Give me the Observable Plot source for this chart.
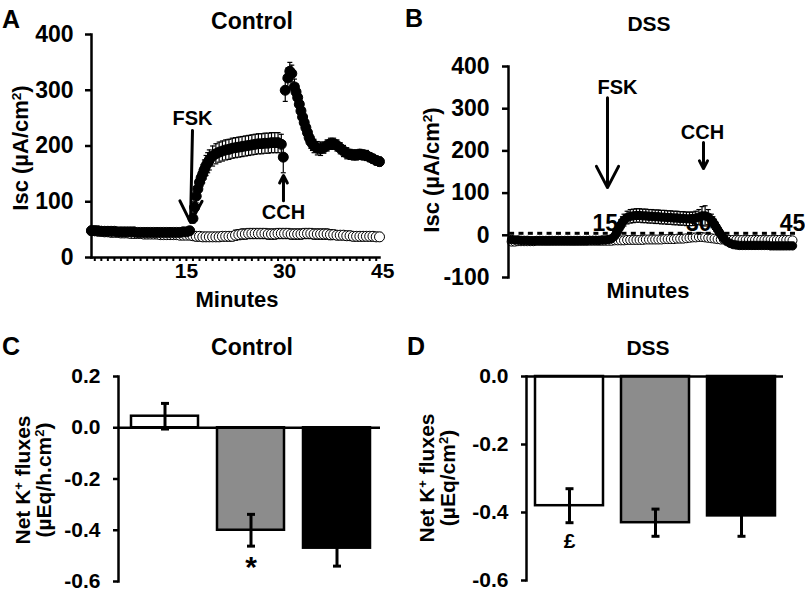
<!DOCTYPE html>
<html><head><meta charset="utf-8">
<script src="https://cdn.jsdelivr.net/npm/d3@7"></script>
<script src="https://cdn.jsdelivr.net/npm/@observablehq/plot@0.6"></script>
<style>
body{margin:0;background:#fff;}
#fig{position:relative;width:805px;height:598px;overflow:hidden;font-family:"Liberation Sans",Arial,Helvetica,sans-serif;font-weight:bold;color:#000;background:#fff;}
#fig svg{position:absolute;}
.lbl{position:absolute;transform:translate(-50%,-50%);white-space:nowrap;line-height:1;}
.rot{transform:translate(-50%,-50%) rotate(-90deg);text-align:center;}
.lbl sup{font-size:0.62em;vertical-align:0.55em;line-height:0;}
</style></head><body><div id="fig"></div>
<script>
// ---------- DATA ----------
// Panel A (Control): [minute, mean Isc, SEM]
const aBasal = [
[0.5,48,5],[1,48,5],[1.5,47,5],[2,47,5],[2.5,46,5],[3,46,5],[3.5,45,5],[4,45,5],[4.5,45,5],[5,44,5],
[5.5,44,5],[6,44,5],[6.5,43,5],[7,43,5],[7.5,43,5],[8,43,5],[8.5,42,5],[9,42,5],[9.5,42,5],[10,42,5],
[10.5,42,5],[11,41,5],[11.5,41,5],[12,41,5],[12.5,41,5],[13,41,5],[13.5,41,5],[14,40,5],[14.5,40,5],[15,40,5],
[15.5,40,7],[16,39,7],[16.5,38,8],[17,38,8],[17.5,37,8],[18,37,8],[18.5,37,8],[19,37,8],[19.5,37,8],[20,37,8],
[20.5,38,8],[21,38,8],[21.5,38,8],[22,38,8],
[22.5,40,9],[23,41,9],[23.5,42,9],[24,42,9],[24.5,43,9],[25,43,9],[25.5,43,9],[26,43,9],[26.5,43,9],[27,43,9],
[27.5,42,9],[28,42,9],[28.5,42,9],[29,43,9],[29.5,43,9],[30,43,9],[30.5,43,9],[31,42,9],[31.5,42,9],[32,42,9],
[32.5,42,9],[33,43,9],[33.5,43,9],[34,43,9],[34.5,42,9],[35,42,9],[35.5,42,9],[36,42,9],[36.5,42,9],[37,41,9],
[37.5,41,8],[38,40,8],[38.5,40,8],[39,40,8],[39.5,39,8],[40,39,8],[40.5,38,8],[41,38,8],[41.5,38,8],[42,38,8],
[42.5,38,8],[43,38,8],[43.5,38,8],[44,37,8],[44.5,37,8]
];
const aFskCch = [
[0.5,48,4],[1,48,4],[1.5,48,4],[2,47,4],[2.5,47,4],[3,47,4],[3.5,47,4],[4,47,4],[4.5,46,4],[5,46,4],
[5.5,46,4],[6,46,4],[6.5,46,4],[7,46,4],[7.5,45,4],[8,45,4],[8.5,45,4],[9,45,4],[9.5,45,4],[10,45,4],
[10.5,45,4],[11,45,4],[11.5,45,4],[12,45,4],[12.5,45,4],[13,45,4],[13.5,45,4],[14,45,4],[14.5,46,4],[15,46,4],
[15.5,48,5],[16,70,8],[16.25,90,10],[16.5,110,12],[16.75,123,13],[17,135,14],[17.25,143,15],[17.5,150,16],[17.75,158,17],[18,165,18],[18.25,170,18],[18.5,175,18],[19,182,18],[19.5,186,18],[20,189,18],
[20.5,191,18],[21,193,18],[21.5,194,18],[22,196,18],[22.5,197,18],[23,198,18],[23.5,199,18],[24,200,18],[24.5,201,18],[25,202,18],
[25.5,203,18],[26,204,18],[26.5,204,18],[27,205,18],[27.5,205,18],[28,206,18],[28.5,206,18],[29,206,18],[29.5,203,18],[29.8,180,28],
[30.1,300,20],[30.5,322,18],[30.8,334,16],[31.1,330,15],[31.5,306,14],[31.75,297,14],[32,287,14],[32.25,275,13],[32.5,263,13],[32.75,252,13],[33,242,13],[33.25,233,12],[33.5,224,12],[33.75,215,12],[34,208,12],[34.25,204,12],
[34.5,200,12],[35,196,12],[35.5,195,12],[36,197,10],[36.5,201,10],[37,204,10],[37.5,204,10],[38,201,10],[38.5,196,10],[39,191,10],
[39.5,187,10],[40,185,9],[40.5,184,9],[41,184,9],[41.5,185,9],[42,184,9],[42.5,183,9],[43,180,8],[43.5,177,8],[44,174,8],[44.5,172,8]
];
// Panel B (DSS)
const bBasal = [
[0,-15,6],[0.5,-15,6],[1,-14,6],[1.5,-14,6],[2,-14,6],[2.5,-14,6],[3,-14,6],[3.5,-14,6],[4,-13,6],[4.5,-13,6],
[5,-13,6],[5.5,-13,6],[6,-13,6],[6.5,-13,6],[7,-13,6],[7.5,-13,6],[8,-13,6],[8.5,-13,6],[9,-13,6],[9.5,-13,6],
[10,-13,6],[10.5,-13,6],[11,-13,6],[11.5,-13,6],[12,-13,6],[12.5,-13,6],[13,-13,6],[13.5,-13,6],[14,-13,6],[14.5,-13,6],[15,-13,6],
[15.5,-13,6],[16,-13,6],[16.5,-12,6],[17,-12,6],[17.5,-12,6],[18,-12,6],[18.5,-11,6],[19,-11,6],[19.5,-11,6],[20,-11,6],
[20.5,-11,6],[21,-11,6],[21.5,-10,6],[22,-10,6],[22.5,-10,6],[23,-10,6],[23.5,-10,6],[24,-10,6],[24.5,-9,6],[25,-9,6],
[25.5,-9,6],[26,-9,6],[26.5,-8,6],[27,-8,6],[27.5,-8,6],[28,-7,6],
[28.5,-6,6],[29,-5,6],[29.5,-5,6],[30,-4,6],[30.5,-4,6],[31,-5,6],[31.5,-6,6],[32,-7,6],[32.5,-8,6],[33,-9,6],
[33.5,-10,6],[34,-10,6],[34.5,-11,6],[35,-11,6],[35.5,-11,6],[36,-11,6],[36.5,-11,6],[37,-11,6],[37.5,-11,6],[38,-11,6],
[38.5,-11,6],[39,-11,6],[39.5,-11,6],[40,-11,6],[40.5,-11,6],[41,-11,6],[41.5,-11,6],[42,-11,6],[42.5,-11,6],[43,-11,6],
[43.5,-11,6],[44,-11,6],[44.5,-11,6],[45,-12,6]
];
const bFskCch = [
[0,-10,5],[0.5,-11,5],[1,-11,5],[1.5,-12,5],[2,-12,5],[2.5,-12,5],[3,-13,5],[3.5,-13,5],[4,-13,5],[4.5,-13,5],
[5,-13,5],[5.5,-13,5],[6,-13,5],[6.5,-13,5],[7,-13,5],[7.5,-13,5],[8,-13,5],[8.5,-13,5],[9,-13,5],[9.5,-13,5],
[10,-13,5],[10.5,-13,5],[11,-13,5],[11.5,-13,5],[12,-13,5],[12.5,-12,5],[13,-12,5],[13.5,-12,5],[14,-12,5],[14.5,-11,5],[15,-11,5],
[15.5,-10,5],[16,-8,6],[16.5,-2,8],[16.75,4,9],[17,10,10],[17.25,18,11],[17.5,25,12],[17.75,31,13],[18,36,14],[18.5,42,15],[19,45,16],[19.5,46,16],[20,47,16],
[20.5,47,16],[21,46,16],[21.5,46,16],[22,45,16],[22.5,45,16],[23,44,16],[23.5,44,16],[24,43,16],[24.5,43,16],[25,42,16],
[25.5,42,16],[26,41,16],[26.5,41,16],[27,40,16],[27.5,40,16],[28,39,16],[28.5,39,16],[29,39,16],[29.5,41,16],[30,43,18],
[30.5,46,22],[31,46,24],[31.5,43,18],[32,36,14],[32.25,31,13],[32.5,26,12],[32.75,20,11],[33,14,10],[33.25,8,9],[33.5,2,8],[33.75,-3,8],[34,-8,7],[34.5,-15,6],[35,-19,6],
[35.5,-22,5],[36,-23,5],[36.5,-24,5],[37,-24,5],[37.5,-24,5],[38,-24,5],[38.5,-24,5],[39,-24,5],[39.5,-24,5],[40,-24,5],
[40.5,-24,5],[41,-24,5],[41.5,-25,5],[42,-25,5],[42.5,-25,5],[43,-25,5],[43.5,-25,5],[44,-25,5],[44.5,-25,5],[45,-25,5]
];
const yTicksA = [0, 100, 200, 300, 400];
const yTicksB = [-100, 0, 100, 200, 300, 400];
const xTickLabelsA = [15, 30, 45];
const xTickLabelsB = [15, 30, 45];
const xMinorTicksA = [1,2,3,4,5,6,7,8,9,10,11,12,13,14,15,16,17,18,19,20,21,22,23,24,25,26,27,28,29,30,31,32,33,34,35,36,37,38,39,40,41,42,43,44];
const xMinorTicksB = [0,1.5,3,4.5,6,7.5,9,10.5,12,13.5,15,16.5,18,19.5,21,22.5,24,25.5,27,28.5,30,31.5,33,34.5,36,37.5,39,40.5,42,43.5,45];
// Treatment annotations (minute, Isc)
const arrowsA = [{x1: 15.93, y1: 228, x2: 15.63, y2: 63}, {x1: 29.83, y1: 102, x2: 29.83, y2: 147}];
const labelsA = [{t: 15.93, v: 249, text: "FSK"}, {t: 29.83, v: 81, text: "CCH"}];
const arrowsB = [{x1: 15.36, y1: 326, x2: 15.36, y2: 113}, {x1: 30.74, y1: 220, x2: 30.74, y2: 158}];
const labelsB = [{t: 16.96, v: 350, text: "FSK"}, {t: 30.58, v: 243, text: "CCH"}];

// Panels C, D: net K+ fluxes
const conditions = ["Basal", "FSK", "CCH"];
const barFills = ["white", "#8c8c8c", "black"];
const controlFluxMean = [0.045, -0.40, -0.47];
const controlFluxSem = [0.05, 0.062, 0.07];
const dssFluxMean = [-0.38, -0.43, -0.41];
const dssFluxSem = [0.05, 0.04, 0.06];
const yTicksC = [-0.6, -0.4, -0.2, 0, 0.2];
const yTicksD = [-0.6, -0.4, -0.2, 0];
const controlSig = [{cond: "FSK", v: -0.545, text: "*"}];
const dssSig = [{cond: "Basal", v: -0.485, text: "£"}];

// ---------- DRAWING ----------
const baseStyle = {fontFamily: '"Liberation Sans", Arial, sans-serif', fontWeight: "bold", background: "transparent", overflow: "visible", color: "black"};
const capSymbol = {draw(ctx, size) { const w = Math.sqrt(size / Math.PI); ctx.moveTo(-w, 0); ctx.lineTo(w, 0); }};
const rows = rs => rs.map(([t, mean, sem]) => ({t, mean, sem}));
const plain = d => `${d}`;

function seriesMarks(rs, fill, r, cap) {
  const data = rows(rs);
  return [
    Plot.ruleX(data, {x: "t", y1: d => d.mean - d.sem, y2: d => d.mean + d.sem, stroke: "black", strokeWidth: 1.2}),
    Plot.dot(data, {x: "t", y: d => d.mean + d.sem, symbol: capSymbol, r: cap, fill: "none", stroke: "black", strokeWidth: 1.2}),
    Plot.dot(data, {x: "t", y: d => d.mean - d.sem, symbol: capSymbol, r: cap, fill: "none", stroke: "black", strokeWidth: 1.2}),
    Plot.dot(data, {x: "t", y: "mean", r, fill, stroke: "black", strokeWidth: 1})
  ];
}

const plotA = Plot.plot({
  width: 400, height: 300, marginLeft: 91, marginRight: 21, marginTop: 34, marginBottom: 43,
  x: {domain: [0.5, 44.5]}, y: {domain: [0, 400]},
  style: {...baseStyle, fontSize: "23px"},
  marks: [
    Plot.axisY({ticks: yTicksA, tickSize: 6, tickPadding: 12, tickFormat: plain, strokeWidth: 2.5, label: null}),
    Plot.axisX({ticks: xMinorTicksA, tickSize: 4, tickFormat: () => "", strokeWidth: 2, label: null}),
    Plot.text(xTickLabelsA, {x: d => d, frameAnchor: "bottom", dy: 20, fontSize: 21}),
    ...seriesMarks(aBasal, "white", 5, 2.5),
    ...seriesMarks(aFskCch, "black", 5, 2.5),
    Plot.frame({anchor: "left", strokeWidth: 2.5}),
    Plot.frame({anchor: "bottom", strokeWidth: 2.5}),
    Plot.arrow(arrowsA, {x1: "x1", y1: "y1", x2: "x2", y2: "y2", strokeWidth: 3, headLength: 12, headAngle: 55}),
    Plot.text(labelsA, {x: "t", y: "v", text: "text", fontSize: 20})
  ]
});

const plotB = Plot.plot({
  width: 405, height: 300, marginLeft: 108, marginRight: 13, marginTop: 66, marginBottom: 23,
  x: {domain: [-0.5, 45], axis: null}, y: {domain: [-100, 400]},
  style: {...baseStyle, fontSize: "23px"},
  marks: [
    Plot.axisY({ticks: yTicksB, tickSize: 6, tickPadding: 13, tickFormat: plain, strokeWidth: 2.5, label: null}),
    Plot.text(xTickLabelsB, {x: d => d, y: () => 0, dy: -12, fontSize: 23}),
    ...seriesMarks(bBasal, "white", 4.5, 2.5),
    ...seriesMarks(bFskCch, "black", 4.2, 2.5),
    Plot.dot(xMinorTicksB, {x: d => d, y: () => 0, symbol: capSymbol, r: 2.5, dy: -2, fill: "none", stroke: "black", strokeWidth: 3}),
    Plot.frame({anchor: "left", strokeWidth: 2.5}),
    Plot.arrow(arrowsB, {x1: "x1", y1: "y1", x2: "x2", y2: "y2", strokeWidth: 3, headLength: 12, headAngle: 55}),
    Plot.text(labelsB, {x: "t", y: "v", text: "text", fontSize: 20})
  ]
});

function barPlot(means, sems, sig, opts) {
  const data = conditions.map((cond, i) => ({cond, mean: means[i], sem: sems[i], fill: barFills[i]}));
  return Plot.plot({
    width: opts.width, height: 298, marginLeft: opts.marginLeft, marginRight: opts.marginRight, marginTop: 76, marginBottom: opts.marginBottom,
    x: {type: "band", domain: conditions, range: opts.range, paddingInner: opts.inner, paddingOuter: 0.1, axis: null},
    y: {domain: opts.yDomain},
    color: {type: "identity"},
    style: {...baseStyle, fontSize: "21px"},
    marks: [
      Plot.axisY({ticks: opts.ticks, tickSize: 5, tickPadding: 13, tickFormat: d => d.toFixed(1), strokeWidth: 2.5, label: null}),
      Plot.barY(data, {x: "cond", y: "mean", fill: "fill", stroke: "black", strokeWidth: 2.5}),
      Plot.ruleX(data, {x: "cond", y1: d => d.mean - d.sem, y2: d => d.mean + d.sem, stroke: "black", strokeWidth: 3}),
      Plot.dot(data, {x: "cond", y: d => d.mean + d.sem, symbol: capSymbol, r: 4, fill: "none", stroke: "black", strokeWidth: 3}),
      Plot.dot(data, {x: "cond", y: d => d.mean - d.sem, symbol: capSymbol, r: 4, fill: "none", stroke: "black", strokeWidth: 3}),
      Plot.ruleY([0], {stroke: "black", strokeWidth: 2.5}),
      Plot.frame({anchor: "left", strokeWidth: 2.5}),
      Plot.text(sig, {x: "cond", y: "v", text: "text", fontSize: opts.sigSize})
    ]
  });
}

const plotC = barPlot(controlFluxMean, controlFluxSem, controlSig, {width: 400, marginLeft: 118, marginRight: 20, marginBottom: 17, range: [121, 380], inner: 0.22, yDomain: [-0.6, 0.2], ticks: yTicksC, sigSize: 30});
const plotD = barPlot(dssFluxMean, dssFluxSem, dssSig, {width: 405, marginLeft: 126, marginRight: 22, marginBottom: 18, range: [126, 384], inner: 0.21, yDomain: [-0.6, 0], ticks: yTicksD, sigSize: 21});

const fig = document.getElementById("fig");
[[plotA, 0, 0], [plotB, 400, 0], [plotC, 0, 300], [plotD, 400, 300]].forEach(([svg, l, t]) => {
  svg.style.left = l + "px"; svg.style.top = t + "px"; fig.appendChild(svg);
});

// Text labels
const texts = [
  {html: "A", x: 11, y: 19, size: 25}, {html: "B", x: 414, y: 18, size: 25},
  {html: "C", x: 11, y: 346, size: 25}, {html: "D", x: 416, y: 346, size: 25},
  {html: "Control", x: 252, y: 21, size: 23}, {html: "DSS", x: 649, y: 23, size: 21},
  {html: "Control", x: 252, y: 347, size: 23}, {html: "DSS", x: 648, y: 347, size: 21},
  {html: "Minutes", x: 237, y: 300, size: 22}, {html: "Minutes", x: 648, y: 291, size: 22},
  {html: "Isc (µA/cm<sup>2</sup>)", x: 21, y: 148, size: 22, rot: true},
  {html: "Isc (µA/cm<sup>2</sup>)", x: 432, y: 170, size: 22, rot: true},
  {html: "Net K<sup>+</sup> fluxes<br>(µEq/h.cm<sup>2</sup>)", x: 33, y: 480, size: 21, rot: true, lh: 21},
  {html: "Net K<sup>+</sup> fluxes<br>(µEq/cm<sup>2</sup>)", x: 437, y: 478, size: 21, rot: true, lh: 21}
];
texts.forEach(t => {
  const d = document.createElement("div");
  d.className = "lbl" + (t.rot ? " rot" : "");
  d.innerHTML = t.html;
  d.style.left = t.x + "px"; d.style.top = t.y + "px"; d.style.fontSize = t.size + "px";
  if (t.lh) d.style.lineHeight = t.lh + "px";
  fig.appendChild(d);
});
</script></body></html>
